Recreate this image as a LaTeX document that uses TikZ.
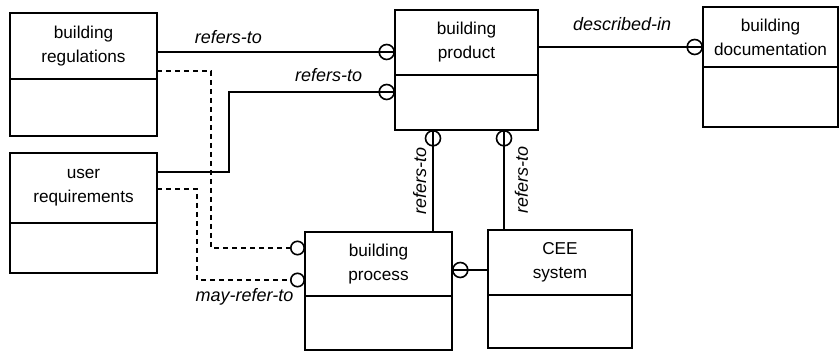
\documentclass[tikz,border=0pt]{standalone}
\usepackage{fontspec}
\setmainfont{Liberation Sans}
\usetikzlibrary{arrows.meta,positioning}
\tikzset{
  head/.style 2 args={draw,line width=1pt,align=center,anchor=north west,inner sep=0pt,outer sep=0pt,minimum width=#1,minimum height=#2,font=\fontsize{8.6}{12}\selectfont},
  body/.style 2 args={draw,line width=1pt,inner sep=0pt,outer sep=0pt,minimum width=#1,minimum height=#2}
}

\begin{document}
\begin{tikzpicture}[
  x=0.5pt,y=-0.5pt,
  link/.style={line width=0.8pt},
  maylink/.style={line width=0.8pt,dash pattern=on 2.5pt off 2pt,-{Circle[open,length=7.5pt]}},
  ring/.style={circle,draw,solid,line width=0.8pt,inner sep=0pt,minimum size=7.5pt},
  lbl/.style={inner sep=1pt,font=\fontsize{9}{11}\selectfont\itshape}
]
\useasboundingbox (0,0) rectangle (840,351);

\node[head={73.5pt}{33pt}] (regs) at (10,13) {building\\regulations};
\node[body={73.5pt}{28.5pt},below=0pt of regs] (regs-b) {};
\node[head={73.5pt}{35pt}] (user) at (10,153) {user\\requirements};
\node[body={73.5pt}{25pt},below=0pt of user] (user-b) {};
\node[head={71.5pt}{32.5pt}] (product) at (395,10) {building\\product};
\node[body={71.5pt}{27.5pt},below=0pt of product] (product-b) {};
\node[head={67.5pt}{30pt}] (docu) at (703,7) {building\\documentation};
\node[body={67.5pt}{30pt},below=0pt of docu] (docu-b) {};
\node[head={73.5pt}{32pt}] (process) at (305,232) {building\\process};
\node[body={73.5pt}{27pt},below=0pt of process] (process-b) {};
\node[head={72pt}{32.5pt}] (cee) at (488,230) {CEE\\system};
\node[body={72pt}{26.5pt},below=0pt of cee] (cee-b) {};

\draw[link] ([yshift=-3pt]regs.east) -- ([yshift=-3pt]regs.east -| product.west)
  node[ring,anchor=east] {} node[lbl,pos=0.3,above=3pt] {refers-to};
\draw[link] ([yshift=8pt]user.east) -- ++(72,0) |- ([yshift=5.25pt]product-b.west)
  node[ring,anchor=east] {} node[lbl,pos=0.8,above=4pt] {refers-to};
\draw[link] ([yshift=-2.25pt]product.east) -- ([yshift=-2.25pt]product.east -| docu.west)
  node[ring,anchor=east] {} node[lbl,pos=0.51,above=7pt] {described-in};
\draw[link] ([xshift=-16.75pt]product-b.south |- process.north) -- ([xshift=-16.75pt]product-b.south)
  node[ring,anchor=north] {} node[lbl,midway,sloped,above=2pt] {refers-to};
\draw[link] ([xshift=18.75pt]product-b.south |- cee.north) -- ([xshift=18.75pt]product-b.south)
  node[ring,anchor=north] {} node[lbl,midway,sloped,below=4pt] {refers-to};
\draw[link] ([yshift=-3pt]process.east -| cee.west) -- ([yshift=-3pt]process.east)
  node[ring,anchor=west] {};

\draw[maylink] ([yshift=-12.5pt]regs.east) -- ++(54,0) |- ([yshift=8pt]process.west);
\draw[maylink] ([yshift=-0.5pt]user.east) -- ++(40,0) |- ([yshift=-8pt]process.west)
  node[lbl,pos=0.72,below=3pt] {may-refer-to};
\end{tikzpicture}
\end{document}
